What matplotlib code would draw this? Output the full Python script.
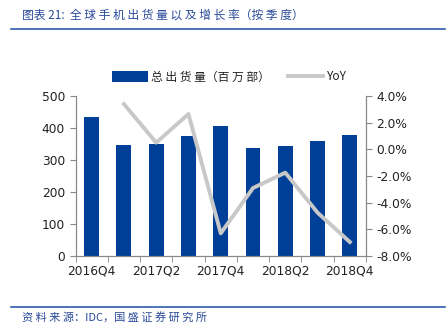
import numpy as np
import matplotlib.pyplot as plt
from matplotlib.ticker import FuncFormatter

plt.rcParams['font.family'] = ['Noto Sans CJK SC', 'DejaVu Sans']

# Data
quarters = ["2016Q4", "2017Q1", "2017Q2", "2017Q3", "2017Q4",
            "2018Q1", "2018Q2", "2018Q3", "2018Q4"]
shipments = [433, 347, 351, 376, 406, 337, 345, 358, 378]
yoy = [np.nan, 3.4, 0.5, 2.65, -6.3, -2.9, -1.75, -4.75, -6.95]

BLUE = "#003f98"
GREY = "#c8c8c8"
AXIS = "#888888"
TXT_BLUE = "#2a4a9a"

fig = plt.figure(figsize=(4.46, 3.25), dpi=100)

# title and footer
fig.text(22 / 446, 1 - 15 / 325, "图表 21:  全 球 手 机 出 货 量 以 及 增 长 率（按 季 度）",
         fontsize=8.5, color=TXT_BLUE, style="italic", va="center")
fig.add_artist(plt.Line2D([11 / 446, 445 / 446], [1 - 29 / 325] * 2, color="#2e5ea8", lw=1.2))
fig.add_artist(plt.Line2D([11 / 446, 445 / 446], [1 - 307 / 325] * 2, color="#2e5ea8", lw=1.2))
fig.text(22 / 446, 1 - 317 / 325, "资 料 来 源：IDC，国 盛 证 券 研 究 所",
         fontsize=8, color=TXT_BLUE, style="italic", va="center")

ax = fig.add_axes([75.5 / 446, 69 / 325, 290.5 / 446, 160 / 325])
x = np.arange(len(quarters))
bars = ax.bar(x, shipments, width=0.46, color=BLUE, label="总出货量（百万部）")
ax.set_xlim(-0.5, len(quarters) - 0.5)
ax.set_ylim(0, 500)
ax.set_yticks(range(0, 501, 100))
ax.set_xticks(x[::2])
ax.set_xticklabels(quarters[::2])
ax.set_xticks(np.arange(-0.5, len(quarters), 1), minor=True)
ax.tick_params(axis="x", which="major", length=0, pad=6)
ax.tick_params(axis="x", which="minor", length=4, color=AXIS, direction="out")
ax.tick_params(axis="y", length=4, color=AXIS, direction="out")

ax2 = ax.twinx()
line, = ax2.plot(x, yoy, color=GREY, lw=2.8, label="YoY")
ax2.set_ylim(-8, 4)
ax2.set_yticks(range(-8, 5, 2))
ax2.yaxis.set_major_formatter(FuncFormatter(lambda v, p: f"{v:.1f}%"))
ax2.tick_params(axis="y", length=4, color=AXIS, direction="out")

for a in (ax, ax2):
    a.spines["top"].set_visible(False)
    for s in ("left", "right", "bottom"):
        a.spines[s].set_color(AXIS)
        a.spines[s].set_linewidth(0.8)
    for lab in a.get_xticklabels() + a.get_yticklabels():
        lab.set_fontsize(8.8)
        lab.set_color("#222222")
        lab.set_family(["DejaVu Sans"])

leg = fig.legend([bars, line], ["总 出 货 量（百 万 部）", "YoY"], loc="center",
                 bbox_to_anchor=(0.515, 1 - 77 / 325), ncol=2, frameon=False,
                 prop={"size": 8.5}, handlelength=3.0, handleheight=1.0,
                 columnspacing=1.5, handletextpad=0.3)
for t in leg.get_texts():
    t.set_color("#222222")

fig.savefig("out.png", dpi=100)
